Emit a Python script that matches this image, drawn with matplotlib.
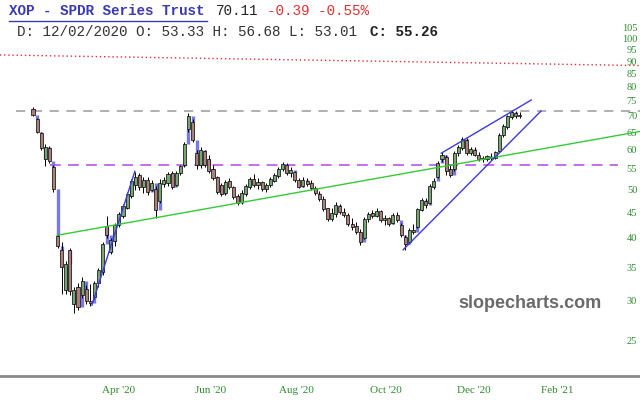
import matplotlib
matplotlib.use('Agg')
import matplotlib.pyplot as plt  # for graphs
import numpy as np
from matplotlib.lines import Line2D
from matplotlib.ticker import NullLocator

# candle values (each candle is about 2 trading days)
opens = [72.3, 69.0, 64.8, 57.5, 60.4, 55.5, 40.3, 37.8, 31.5, 37.8,
         29.6, 32.0, 30.8, 31.6, 30.0, 30.5, 32.5, 34.2, 42.2, 37.5,
         39.5, 42.5, 44.3, 46.0, 48.6, 51.0, 53.5, 50.5, 52.2, 49.8,
         50.0, 47.5, 51.2, 51.5, 54.0, 51.0, 54.0, 56.0, 65.8, 68.0,
         59.0, 55.8, 59.5, 57.5, 55.0, 52.8, 51.0, 49.2, 52.0, 50.5,
         48.5, 47.2, 49.0, 50.5, 52.5, 51.0, 51.6, 50.0, 51.0, 52.0,
         53.2, 54.8, 56.0, 54.0, 54.2, 52.2, 50.8, 52.0, 51.5, 50.3,
         49.0, 47.8, 45.8, 43.6, 44.6, 46.4, 45.0, 44.4, 42.6, 42.2,
         41.2, 40.0, 43.6, 44.8, 44.2, 45.2, 43.5, 43.8, 42.8, 44.4,
         42.5, 40.2, 39.2, 41.4, 42.0, 45.5, 47.5, 47.0, 50.5, 53.0,
         57.5, 58.0, 55.0, 55.0, 59.0, 60.5, 62.6, 59.0, 60.0, 58.6,
         57.4, 57.5, 58.0, 57.8, 59.5, 64.0, 66.5, 69.8, 71.0, 70.0]
highs = [72.8, 69.4, 65.1, 61.6, 61.0, 56.0, 40.7, 39.2, 36.0, 38.2,
         32.0, 32.5, 33.4, 32.2, 32.4, 32.8, 34.8, 39.2, 44.2, 40.0,
         42.8, 45.0, 46.8, 49.4, 52.5, 54.2, 54.0, 53.0, 52.8, 52.2,
         50.8, 52.4, 53.0, 54.2, 54.5, 54.3, 56.0, 62.0, 71.0, 69.0,
         59.8, 60.6, 60.0, 58.5, 55.8, 53.2, 51.5, 52.3, 52.6, 50.8,
         49.0, 49.8, 51.2, 53.0, 53.6, 52.6, 52.0, 51.5, 52.8, 54.0,
         55.3, 56.7, 56.3, 55.3, 54.5, 52.6, 52.8, 52.6, 52.2, 50.8,
         49.6, 48.5, 46.0, 45.9, 47.2, 46.8, 45.8, 44.8, 43.8, 43.0,
         41.6, 44.0, 45.0, 45.4, 45.8, 45.5, 44.4, 44.0, 44.8, 45.0,
         42.8, 40.6, 41.8, 42.6, 46.0, 48.0, 48.0, 51.2, 52.6, 57.0,
         59.4, 58.4, 56.0, 59.5, 61.3, 63.6, 63.2, 60.8, 60.8, 59.4,
         58.2, 58.6, 59.0, 59.6, 64.6, 67.6, 70.4, 72.0, 71.6, 71.2]
lows = [70.0, 64.8, 59.8, 55.6, 56.3, 49.5, 38.2, 31.0, 31.0, 30.8,
        28.3, 28.8, 30.4, 29.6, 29.3, 30.2, 32.0, 33.8, 40.0, 37.2,
        38.6, 42.0, 43.8, 45.6, 48.0, 49.8, 49.8, 49.2, 48.8, 49.6,
        43.8, 47.0, 50.5, 50.8, 50.0, 50.8, 53.5, 55.5, 65.0, 62.0,
        54.8, 55.2, 55.5, 54.0, 52.2, 48.9, 48.5, 48.8, 50.0, 47.8,
        46.6, 46.8, 48.6, 50.0, 50.5, 50.0, 49.6, 49.3, 50.6, 51.6,
        52.6, 54.3, 53.4, 53.0, 51.8, 50.2, 50.6, 50.8, 49.8, 48.8,
        47.4, 45.2, 43.2, 43.2, 44.0, 44.6, 44.0, 42.2, 41.5, 40.8,
        38.7, 39.8, 43.0, 43.8, 44.0, 43.0, 42.4, 42.2, 42.6, 43.0,
        40.2, 37.9, 39.0, 40.8, 41.8, 45.2, 46.0, 46.8, 50.0, 52.6,
        56.6, 53.4, 52.8, 54.5, 58.2, 59.8, 58.5, 58.6, 58.2, 57.0,
        56.6, 57.0, 57.2, 57.4, 59.2, 63.6, 66.0, 69.0, 69.4, 69.4]
closes = [70.2, 65.1, 60.4, 60.6, 57.0, 50.0, 38.5, 35.0, 35.5, 31.4,
          31.5, 29.2, 32.9, 30.0, 29.7, 32.6, 34.5, 38.9, 40.6, 39.6,
          42.4, 44.6, 46.3, 48.9, 52.0, 53.0, 50.5, 52.2, 49.5, 51.5,
          45.5, 51.5, 52.3, 53.6, 50.6, 53.8, 55.6, 61.5, 70.0, 62.6,
          56.0, 60.0, 56.0, 54.5, 52.6, 49.5, 49.0, 51.8, 50.5, 48.3,
          47.0, 49.2, 50.8, 52.4, 51.0, 51.8, 50.0, 51.0, 52.5, 53.5,
          54.8, 56.2, 54.0, 54.6, 52.2, 50.6, 52.3, 51.2, 50.3, 49.2,
          47.8, 45.6, 43.6, 44.8, 46.5, 45.0, 44.4, 42.6, 42.0, 41.2,
          39.3, 43.6, 44.6, 44.2, 45.3, 43.4, 43.8, 42.6, 44.4, 43.4,
          40.6, 39.0, 41.4, 41.2, 45.6, 47.6, 46.6, 50.8, 52.0, 56.5,
          58.5, 54.4, 53.4, 59.0, 60.6, 63.0, 59.0, 60.2, 58.6, 57.4,
          57.6, 58.2, 57.6, 59.2, 64.0, 67.0, 70.0, 71.2, 70.0, 70.3]

# axis labels
price_ticks = [25, 30, 35, 40, 45, 50, 55, 60, 65, 70, 75, 80, 85, 90, 95, 100, 105]
month_labels = ["Apr '20", "Jun '20", "Aug '20", "Oct '20", "Dec '20", "Feb '21"]
month_pos = [20.8, 43.3, 64.3, 86.3, 107.8, 128.1]

# drawn lines on the chart: [start candle, start price, end candle, end price]
green_trend = [5.9, 40.5, 148.4, 65.2]
blue_march = [14.4, 29.4, 24.9, 54.3]
channel_low = [90.5, 37.9, 124.2, 71.6]
channel_high = [99.8, 59.0, 121.8, 75.3]
red_trend = [-8.1, 92.6, 148.4, 88.2]
gray_level = 71.6
magenta_level = 55.8

o = np.array(opens)
h = np.array(highs)
l = np.array(lows)
c = np.array(closes)
idx = np.arange(len(c))

fig = plt.figure(figsize=(6.4, 4.11), dpi=100)
ax = fig.add_axes([0, 35 / 411, 1, 356 / 411])
ax.set_yscale('log')
ax.set_ylim(21.24, 108.7)
ax.set_xlim(-8.07, 148.4)

# gaps between candles in blue, then wicks and bodies
ax.vlines(idx[1:], c[:-1], o[1:], color='#7878ea', lw=2.4, zorder=2)
ax.vlines(idx, l, h, color='black', lw=0.7, zorder=3)
body_col = np.where(c >= o, '#78a672', '#a9807a')
ax.bar(idx, np.maximum(np.abs(c - o), 0.15), bottom=np.minimum(o, c), width=0.75,
       color=body_col, edgecolor='black', linewidth=0.5, zorder=4)

# trend lines
for line, col in [(green_trend, '#33cc33'), (blue_march, '#3a3ae0'),
                  (channel_low, '#3a3ae0'), (channel_high, '#3a3ae0')]:
    ax.plot([line[0], line[2]], [line[1], line[3]], color=col, lw=1, zorder=5)
ax.plot([red_trend[0], red_trend[2]], [red_trend[1], red_trend[3]],
        color='#e03030', ls=(0, (1, 2)), lw=1)
ax.hlines(gray_level, -4.2, 148.4, color='#9a9a9a', ls=(0, (6, 5)), lw=1.1, zorder=1)
ax.hlines(magenta_level, 4.2, 143, color='#c262e6', ls=(0, (6, 4)), lw=1.3, zorder=1)

# axes look
for s in ['top', 'left', 'right']:
    ax.spines[s].set_visible(False)
ax.spines['bottom'].set_color('#8a8a8a')
ax.spines['bottom'].set_linewidth(2)
ax.set_xticks(month_pos, month_labels)
ax.tick_params(axis='x', length=0, pad=7, labelsize=8, labelcolor='#2e8b2e')
for t in ax.get_xticklabels():
    t.set_family('Liberation Serif')
ax.yaxis.tick_right()
ax.yaxis.set_minor_locator(NullLocator())
ax.set_yticks(price_ticks, [str(p) for p in price_ticks])
ax.tick_params(axis='y', length=0, pad=-2, labelsize=7.5, labelcolor='#2e8b2e')
for t in ax.get_yticklabels():
    t.set_family('Liberation Serif')
    t.set_ha('right')

# header text
mono = dict(family='Liberation Mono', fontsize=10.3, va='center')
fig.text(9 / 640, 1 - 11 / 411, 'XOP - SPDR Series Trust', color='#3a3ab4', weight='bold', **mono)
fig.text(215.4 / 640, 1 - 11 / 411, '70.11', color='#222222', **mono)
fig.text(267 / 640, 1 - 11 / 411, '-0.39 -0.55%', color='#e03030', **mono)
fig.add_artist(Line2D([9 / 640, 207 / 640], [1 - 21 / 411, 1 - 21 / 411], color='#3a3ab4', lw=1))
fig.text(17 / 640, 1 - 31.5 / 411, 'D: 12/02/2020 O: 53.33 H: 56.68 L: 53.01', color='#333333', **mono)
fig.text(369.6 / 640, 1 - 31.5 / 411, 'C: 55.26', color='#222222', weight='bold', **mono)

# watermark
fig.text(530 / 640, 1 - 303 / 411, 'slopecharts.com', ha='center', va='center',
         fontsize=13, weight='bold', color='#6a6a6a', family='Liberation Sans')

plt.savefig('out.png')
